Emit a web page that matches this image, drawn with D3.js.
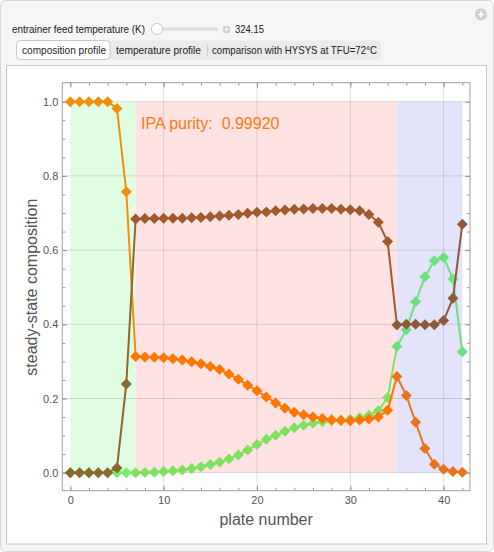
<!DOCTYPE html>
<html>
<head>
<meta charset="utf-8">
<script src="https://cdn.jsdelivr.net/npm/d3@7"></script>
<style>
  body { margin: 0; background: #fff; }
  text { font-family: "Liberation Sans", Arial, Helvetica, sans-serif; }
</style>
</head>
<body>
<div id="my_dataviz"></div>
<script>
// plate numbers along the column
var plates = d3.range(0, 43);

// steady-state liquid composition on each plate
var ipa = [1.000, 1.000, 1.000, 1.000, 1.000, 0.982, 0.757, 0.313, 0.312, 0.311,
           0.310, 0.307, 0.304, 0.299, 0.294, 0.286, 0.278, 0.266, 0.252, 0.236,
           0.221, 0.204, 0.188, 0.174, 0.163, 0.156, 0.150, 0.146, 0.143, 0.141,
           0.140, 0.142, 0.145, 0.150, 0.168, 0.259, 0.208, 0.136, 0.065, 0.023,
           0.009, 0.003, 0.001];
var entrainer = [0.000, 0.000, 0.000, 0.000, 0.000, 0.013, 0.239, 0.684, 0.685, 0.685,
                 0.686, 0.686, 0.686, 0.687, 0.688, 0.690, 0.692, 0.694, 0.696, 0.699,
                 0.702, 0.703, 0.706, 0.708, 0.710, 0.711, 0.712, 0.712, 0.712, 0.710,
                 0.709, 0.706, 0.696, 0.675, 0.623, 0.398, 0.400, 0.400, 0.399, 0.399,
                 0.410, 0.470, 0.670];
var water = [0.000, 0.000, 0.000, 0.000, 0.000, 0.000, 0.000, 0.000, 0.0005, 0.001,
             0.003, 0.005, 0.007, 0.011, 0.016, 0.022, 0.029, 0.037, 0.048, 0.061,
             0.076, 0.090, 0.101, 0.112, 0.121, 0.128, 0.133, 0.137, 0.140, 0.142,
             0.144, 0.148, 0.155, 0.167, 0.203, 0.340, 0.385, 0.461, 0.528, 0.571,
             0.580, 0.522, 0.326];

// column sections (plate ranges)
var sectionStart = [0, 7, 35];
var sectionEnd = [7, 35, 42];
var sectionFill = ["#e1fde1", "#ffe3e3", "#e3e3fb"];

// colours of each series in each section
var ipaColors = ["#ee900c", "#ff7700", "#e9731d"];
var entrainerColors = ["#8b682d", "#a05a2e", "#8f5a3a"];
var waterColors = ["#74f06a", "#80e060", "#6fe07f"];

var yTicks = [0, 0.2, 0.4, 0.6, 0.8, 1.0];
var xTicks = [0, 10, 20, 30, 40];
var purity = "0.99920";

var W = 494, H = 552;

var svg = d3.select("#my_dataviz")
  .append("svg")
    .attr("width", W)
    .attr("height", H);

// panel background
svg.append("rect")
  .attr("x", 0.5).attr("y", 0.5).attr("width", W - 1).attr("height", H - 1)
  .attr("rx", 5)
  .attr("fill", "#f6f6f6").attr("stroke", "#d8d8d8");

// top-right circle button
svg.append("circle").attr("cx", 481).attr("cy", 14.5).attr("r", 6).attr("fill", "#cfcfcf");
svg.append("path").attr("d", "M478,14.5H484M481,11.5V17.5").attr("stroke", "#fff").attr("stroke-width", 1.6);

// control label, squeezed to the width it has in the original panel
function label(txt, x0, y0, w) {
  svg.append("text").attr("x", x0).attr("y", y0)
    .attr("font-size", 11).attr("fill", "#222")
    .attr("textLength", w).attr("lengthAdjust", "spacingAndGlyphs")
    .text(txt);
}

// slider row
label("entrainer feed temperature (K)", 12, 32.5, 133);
svg.append("rect").attr("x", 156).attr("y", 27.5).attr("width", 62).attr("height", 3).attr("rx", 1.5).attr("fill", "#dcdcdc");
svg.append("circle").attr("cx", 157).attr("cy", 29).attr("r", 5.5)
  .attr("fill", "#fff").attr("stroke", "#c8c8c8");
svg.append("rect").attr("x", 223).attr("y", 26).attr("width", 7).attr("height", 7).attr("rx", 1).attr("fill", "#d0d0d0");
svg.append("path").attr("d", "M224.5,29.5H228.5M226.5,27.5V31.5").attr("stroke", "#fff").attr("stroke-width", 1);
label("324.15", 235, 32.5, 29);

// tab bar
svg.append("rect").attr("x", 16.5).attr("y", 40.5).attr("width", 364.5).attr("height", 19).attr("rx", 4)
  .attr("fill", "#ebebeb");
svg.append("rect").attr("x", 16.5).attr("y", 40.5).attr("width", 93.5).attr("height", 19).attr("rx", 4)
  .attr("fill", "#fff").attr("stroke", "#c9c9c9");
svg.append("line").attr("x1", 207.5).attr("x2", 207.5).attr("y1", 44).attr("y2", 56).attr("stroke", "#d0d0d0");
label("composition profile", 22, 54, 84);
label("temperature profile", 116, 54, 85);
label("comparison with HYSYS at TFU=72\u00b0C", 212, 54, 165);

// white output box
svg.append("rect").attr("x", 6.5).attr("y", 65.5).attr("width", 480).attr("height", 478.5)
  .attr("fill", "#fff").attr("stroke", "#c8c8c8");

// scales
var x = d3.scaleLinear().domain([0, 42]).range([70.3, 462.3]);
var y = d3.scaleLinear().domain([0, 1]).range([472.7, 101.7]);
var fL = x(0) - 8, fR = x(42) + 7.7, fT = y(1) - 19, fB = y(0) + 18;

// shaded sections
svg.selectAll(".section")
  .data(sectionStart)
  .enter()
  .append("rect")
    .attr("x", function(d) { return x(d); })
    .attr("y", y(1))
    .attr("width", function(d, i) { return x(sectionEnd[i]) - x(d); })
    .attr("height", y(0) - y(1))
    .attr("fill", function(d, i) { return sectionFill[i]; });

// grid lines
svg.selectAll(".vgrid")
  .data(xTicks.filter(function(d) { return d > 0; }))
  .enter()
  .append("line")
    .attr("x1", function(d) { return x(d); }).attr("x2", function(d) { return x(d); })
    .attr("y1", fT).attr("y2", fB)
    .attr("stroke", "rgba(0,0,0,0.12)");
svg.selectAll(".hgrid")
  .data(yTicks)
  .enter()
  .append("line")
    .attr("x1", fL).attr("x2", fR)
    .attr("y1", function(d) { return y(d); }).attr("y2", function(d) { return y(d); })
    .attr("stroke", "rgba(0,0,0,0.12)");

// frame ticks
var minorY = d3.range(0, 1.0001, 0.05);
var minorX = d3.range(0, 42.5, 2);

function styleAxis(g) {
  g.select(".domain").remove();
  g.selectAll("line").attr("stroke", "#999");
  g.selectAll("text").attr("fill", "#555").attr("font-size", 11)
    .attr("font-family", "'Liberation Sans', Arial, sans-serif");
}

svg.append("g").attr("transform", "translate(" + fL + ",0)")
  .call(d3.axisLeft(y).tickValues(minorY).tickSize(-3).tickFormat(""))
  .call(styleAxis);
svg.append("g").attr("transform", "translate(" + fL + ",0)")
  .call(d3.axisLeft(y).tickValues(yTicks).tickSize(-5).tickPadding(4).tickFormat(d3.format(".1f")))
  .call(styleAxis);
svg.append("g").attr("transform", "translate(" + fR + ",0)")
  .call(d3.axisRight(y).tickValues(minorY).tickSize(-3).tickFormat(""))
  .call(styleAxis);
svg.append("g").attr("transform", "translate(" + fR + ",0)")
  .call(d3.axisRight(y).tickValues(yTicks).tickSize(-5).tickFormat(""))
  .call(styleAxis);
svg.append("g").attr("transform", "translate(0," + fB + ")")
  .call(d3.axisBottom(x).tickValues(minorX).tickSize(-3).tickFormat(""))
  .call(styleAxis);
svg.append("g").attr("transform", "translate(0," + fB + ")")
  .call(d3.axisBottom(x).tickValues(xTicks).tickSize(-5).tickPadding(6).tickFormat(d3.format("d")))
  .call(styleAxis);
svg.append("g").attr("transform", "translate(0," + fT + ")")
  .call(d3.axisTop(x).tickValues(minorX).tickSize(-3).tickFormat(""))
  .call(styleAxis);
svg.append("g").attr("transform", "translate(0," + fT + ")")
  .call(d3.axisTop(x).tickValues(xTicks).tickSize(-5).tickFormat(""))
  .call(styleAxis);

svg.append("rect")
  .attr("x", fL).attr("y", fT).attr("width", fR - fL).attr("height", fB - fT)
  .attr("fill", "none").attr("stroke", "#a0a0a0");

// axis labels
svg.append("text")
  .attr("x", (fL + fR) / 2).attr("y", 525)
  .attr("text-anchor", "middle").attr("font-size", 16).attr("fill", "#555")
  .text("plate number");
svg.append("text")
  .attr("transform", "translate(37," + y(0.5) + ")rotate(-90)")
  .attr("text-anchor", "middle").attr("font-size", 16).attr("fill", "#555")
  .text("steady-state composition");

// series
function section(p) { return p < 7 ? 0 : (p < 35 ? 1 : 2); }

function drawSeries(values, colors) {
  var g = svg.append("g");
  g.selectAll("line")
    .data(plates.slice(0, -1))
    .enter()
    .append("line")
      .attr("x1", function(p) { return x(p); })
      .attr("y1", function(p) { return y(values[p]); })
      .attr("x2", function(p) { return x(p + 1); })
      .attr("y2", function(p) { return y(values[p + 1]); })
      .attr("stroke", function(p) { return colors[section(p)]; })
      .attr("stroke-width", 2);
  g.selectAll("path")
    .data(plates)
    .enter()
    .append("path")
      .attr("d", "M0,-5.5L5.5,0L0,5.5L-5.5,0Z")
      .attr("transform", function(p) { return "translate(" + x(p) + "," + y(values[p]) + ")"; })
      .attr("fill", function(p) { return colors[section(p)]; });
}

drawSeries(water, waterColors);
drawSeries(ipa, ipaColors);
drawSeries(entrainer, entrainerColors);

// purity annotation
svg.append("text")
  .attr("x", 141).attr("y", 129)
  .attr("font-size", 16).attr("fill", "#ff7a14")
  .attr("xml:space", "preserve")
  .style("white-space", "pre")
  .text("IPA purity:  " + purity);
</script>
</body>
</html>
